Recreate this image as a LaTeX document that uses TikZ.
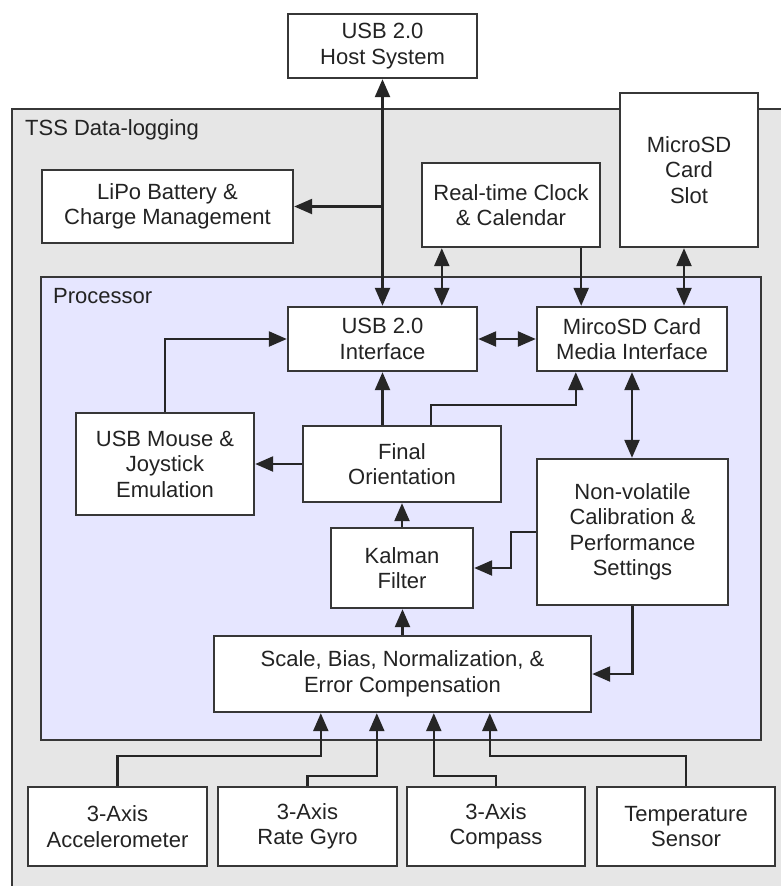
\documentclass[tikz,border=0pt]{standalone}
\usepackage{fontspec}
\setmainfont{Liberation Sans}
\usetikzlibrary{arrows.meta,calc}
\definecolor{outerfill}{RGB}{230,230,230}
\definecolor{procfill}{RGB}{230,230,255}
\definecolor{edgecol}{RGB}{55,55,55}
\definecolor{txtcol}{RGB}{35,35,35}
\begin{document}
\begin{tikzpicture}[x=1pt,y=-1pt,
  box/.style={draw=edgecol, line width=2.4pt, fill=white, inner sep=0pt, align=center,
    font=\fontsize{22}{25.5}\selectfont, text=txtcol},
  region/.style={draw=edgecol, line width=2.4pt, inner sep=0pt},
  lbl/.style={anchor=base west, inner sep=0pt, font=\fontsize{22}{25.5}\selectfont, text=txtcol},
  conn/.style={line width=2.4pt, draw=black!85},
  arr/.style={conn, -{Triangle[length=18pt,width=15pt]}},
  dbl/.style={conn, {Triangle[length=18pt,width=15pt]}-{Triangle[length=18pt,width=15pt]}}]
\useasboundingbox (0,0) rectangle (781,886);
\clip (0,0) rectangle (781,886);
\fill[white] (0,0) rectangle (781,886);

% regions
\node[region, fill=outerfill, minimum width=788pt, minimum height=791pt] (outer) at (406,504.5) {};
\node[lbl] (outerlbl) at (25,135) {TSS Data-logging};
\node[region, fill=procfill, minimum width=720pt, minimum height=463pt] (proc) at (401,508.5) {};
\node[lbl] (proclbl) at (53,303) {Processor};

% boxes
\node[box, minimum width=189pt, minimum height=64pt] (host) at (382.5,46) {USB 2.0\\Host System};
\node[box, minimum width=251pt, minimum height=73pt] (lipo) at (167.5,206.5) {LiPo Battery \&\\Charge Management};
\node[box, minimum width=178pt, minimum height=84pt] (rtc) at (511,205) {Real-time Clock\\\& Calendar};
\node[box, minimum width=138pt, minimum height=154pt] (slot) at (689,170) {MicroSD\\Card\\Slot};
\node[box, minimum width=189pt, minimum height=64pt] (usbif) at (382.5,339) {USB 2.0\\Interface};
\node[box, minimum width=190pt, minimum height=64pt] (media) at (632,339) {MircoSD Card\\Media Interface};
\node[box, minimum width=178pt, minimum height=102pt] (mouse) at (165,464) {USB Mouse \&\\Joystick\\Emulation};
\node[box, minimum width=198pt, minimum height=76pt] (final) at (402,464) {Final\\Orientation};
\node[box, minimum width=191pt, minimum height=146pt] (nonvol) at (632.5,532) {Non-volatile\\Calibration \&\\Performance\\Settings};
\node[box, minimum width=142pt, minimum height=80pt] (kalman) at (402,568) {Kalman\\Filter};
\node[box, minimum width=377pt, minimum height=76pt] (scale) at (402.5,674) {Scale, Bias, Normalization, \&\\Error Compensation};
\node[box, minimum width=179pt, minimum height=79pt] (acc) at (117.5,826.5) {3-Axis\\Accelerometer};
\node[box, minimum width=179pt, minimum height=79pt] (gyro) at (307.5,826.5) {3-Axis\\Rate Gyro};
\node[box, minimum width=178pt, minimum height=79pt] (comp) at (496,826.5) {3-Axis\\Compass};
\node[box, minimum width=178pt, minimum height=79pt] (temp) at (686,826.5) {Temperature\\Sensor};

% connectors
\draw[dbl] (host.south) -- (usbif.north);
\draw[arr] (host.south |- lipo.east) -- (lipo.east);
\draw[dbl] ([xshift=21pt]rtc.south west) -- ([xshift=21pt]rtc.south west |- usbif.north);
\draw[arr] ([xshift=-20pt]rtc.south east) -- ([xshift=-20pt]rtc.south east |- media.north);
\draw[dbl] ([xshift=-5pt]slot.south) -- ([xshift=-5pt]slot.south |- media.north);
\draw[dbl] (usbif.east) -- (media.west);
\draw[arr] (mouse.north) |- (usbif.west);
\draw[arr] (final.west) -- (mouse.east);
\draw[arr] (usbif.south |- final.north) -- (usbif.south);
\draw[arr] ([xshift=129pt]final.north west) -- ++(0,-20) -| ([xshift=40pt]media.south west);
\draw[dbl] (media.south) -- (media.south |- nonvol.north);
\draw[arr] (nonvol.west) -- ++(-25,0) |- (kalman.east);
\draw[arr] (kalman.north) -- (kalman.north |- final.south);
\draw[arr] (scale.north) -- (scale.north |- kalman.south);
\draw[arr] (nonvol.south) |- (scale.east);
\draw[arr] (acc.north) -- ++(0,-30) -| ([xshift=108pt]scale.south west);
\draw[arr] (gyro.north) -- ++(0,-10) -| ([xshift=164pt]scale.south west);
\draw[arr] (comp.north) -- ++(0,-10) -| ([xshift=221pt]scale.south west);
\draw[arr] (temp.north) -- ++(0,-30) -| ([xshift=277pt]scale.south west);
\end{tikzpicture}
\end{document}
